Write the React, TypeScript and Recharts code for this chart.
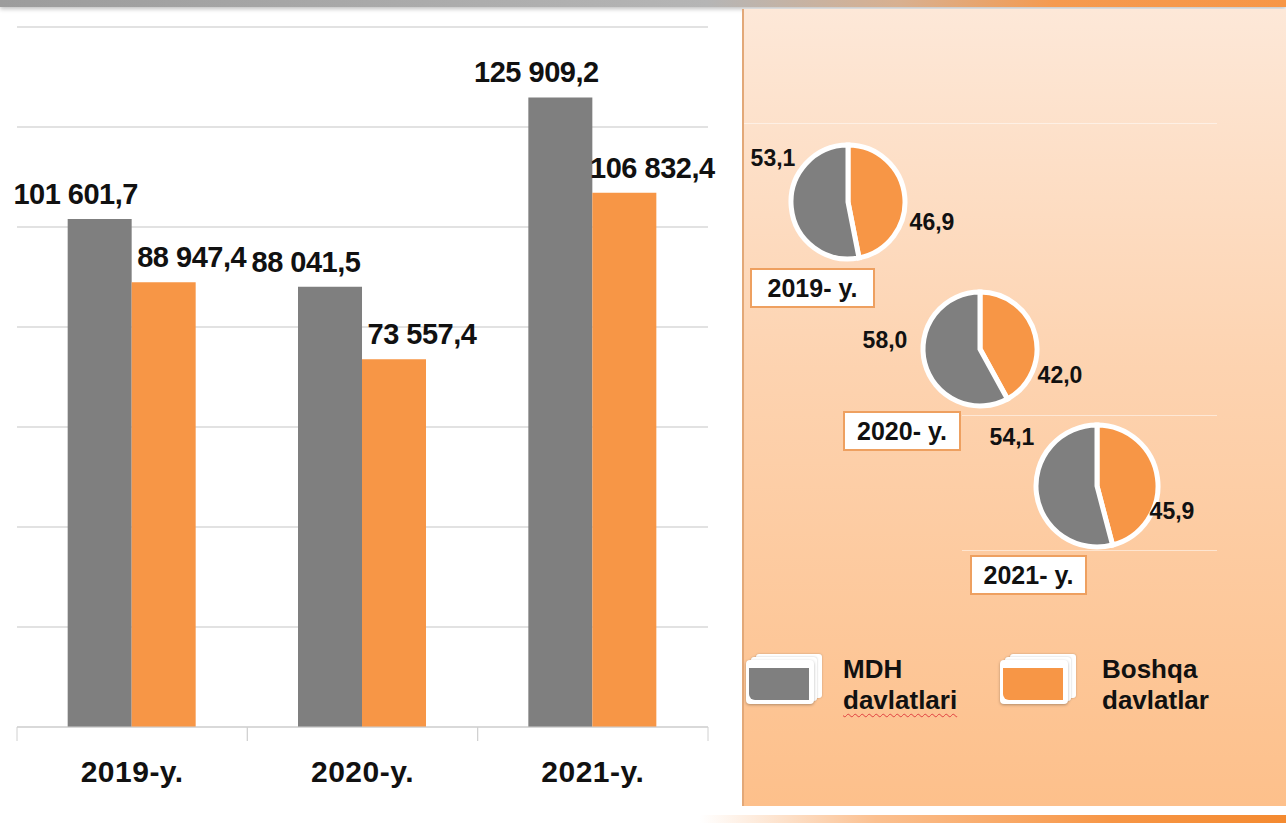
import React from "react";
import { Bar, BarChart, CartesianGrid, XAxis, YAxis, LabelList, PieChart, Pie, Cell } from "recharts";

const years = ["2019-y.", "2020-y.", "2021-y."];
const mdhValues = [101601.7, 88041.5, 125909.2];
const boshqaValues = [88947.4, 73557.4, 106832.4];
const yTicks = [0, 20000, 40000, 60000, 80000, 100000, 120000, 140000];

const pieYears = ["2019- y.", "2020- y.", "2021- y."];
const mdhShares = [53.1, 58.0, 54.1];
const boshqaShares = [46.9, 42.0, 45.9];

const legendNames = ["MDH davlatlari", "Boshqa davlatlar"];

const GREY = "#7f7f7f";
const ORANGE = "#f79646";
const FONT = "'Liberation Sans', Arial, sans-serif";

const barData = years.map((y, i) => ({ name: y, mdh: mdhValues[i], boshqa: boshqaValues[i] }));

// panel-relative layout of the three small pies
const PANEL_LEFT = 742;
const pieLayout = [
    { cx: 101, cy: 197, r: 57, box: { left: 8, top: 268, width: 125 }, offs: [[89, 25], [-70, -39]] },
    { cx: 233, cy: 344, r: 57, box: { left: 101, top: 411, width: 118 }, offs: [[85, 31], [-90, -4]] },
    { cx: 350, cy: 481, r: 61, box: { left: 228, top: 555, width: 117 }, offs: [[80, 30], [-80, -44]] },
];

const fmtBig = (v: number) => {
    const [i, d] = v.toFixed(1).split(".");
    return i.replace(/\B(?=(\d{3})+(?!\d))/g, " ") + "," + d;
};
const fmtPct = (v: number) => v.toFixed(1).replace(".", ",");

const BAND = (708 - 17) / 3;

const CategoryTick = ({ x, y, payload }: any) => (
    <g>
        <line x1={x - BAND / 2} x2={x - BAND / 2} y1={y - 8} y2={y + 6} stroke="#d0d0d0" />
        <line x1={x + BAND / 2} x2={x + BAND / 2} y1={y - 8} y2={y + 6} stroke="#d0d0d0" />
        <text x={x} y={y + 47} textAnchor="middle" fontFamily={FONT} fontWeight="bold" fontSize={30} letterSpacing={0.5} fill="#111">
            {payload.value}
        </text>
    </g>
);

const valueLabel = (dx: number) => (props: any) => {
    const { x, y, width, value } = props;
    return (
        <text x={x + width / 2 + dx} y={y - 15} textAnchor="middle" fontFamily={FONT} fontWeight="bold" fontSize={29} letterSpacing={-0.5} fill="#111">
            {fmtBig(value)}
        </text>
    );
};

function BarPart() {
    return (
        <BarChart width={720} height={800} data={barData} margin={{ top: 27, right: 12, left: 17, bottom: 0 }} barCategoryGap="22%" barGap={0}>
            <CartesianGrid vertical={false} stroke="#d9d9d9" strokeWidth={1.5} />
            <YAxis hide domain={[0, 140000]} ticks={yTicks} />
            <XAxis dataKey="name" height={73} axisLine={{ stroke: "#d0d0d0" }} tickLine={false} tick={<CategoryTick />} interval={0} />
            <Bar dataKey="mdh" fill={GREY} isAnimationActive={false}>
                <LabelList dataKey="mdh" content={valueLabel(-24)} />
            </Bar>
            <Bar dataKey="boshqa" fill={ORANGE} isAnimationActive={false}>
                <LabelList dataKey="boshqa" content={valueLabel(28)} />
            </Bar>
        </BarChart>
    );
}

function PiePart() {
    return (
        <PieChart width={544} height={800}>
            {pieLayout.map((p, k) => {
                const data = [
                    { name: "Boshqa", value: boshqaShares[k] },
                    { name: "MDH", value: mdhShares[k] },
                ];
                return (
                    <Pie
                        key={k}
                        data={data}
                        dataKey="value"
                        cx={p.cx}
                        cy={p.cy}
                        outerRadius={p.r}
                        startAngle={90}
                        endAngle={-270}
                        stroke="#fff"
                        strokeWidth={5}
                        isAnimationActive={false}
                        labelLine={false}
                        label={(lp: any) => (
                            <text
                                x={p.cx + p.offs[lp.index][0]}
                                y={p.cy + p.offs[lp.index][1] + 8}
                                textAnchor="middle"
                                fontFamily={FONT}
                                fontWeight="bold"
                                fontSize={23}
                                fill="#111"
                            >
                                {fmtPct(lp.value)}
                            </text>
                        )}
                    >
                        <Cell fill={ORANGE} />
                        <Cell fill={GREY} />
                    </Pie>
                );
            })}
        </PieChart>
    );
}

const Swatch = ({ color }: { color: string }) => (
    <div style={{ position: "relative", width: 80, height: 52 }}>
        <div style={{ position: "absolute", left: 10, top: 0, width: 66, height: 44, background: "#fff", borderRadius: 3, boxShadow: "0 0 2px rgba(0,0,0,0.25)" }} />
        <div style={{ position: "absolute", left: 5, top: 3, width: 66, height: 44, background: "#fff", borderRadius: 3, boxShadow: "0 0 2px rgba(0,0,0,0.25)" }} />
        <div style={{ position: "absolute", left: 0, top: 6, width: 68, height: 44, background: "#fff", borderRadius: 4, boxShadow: "0 1px 3px rgba(0,0,0,0.3)" }} />
        <div style={{ position: "absolute", left: 3, top: 14, width: 60, height: 32, background: color, borderBottomLeftRadius: 6 }} />
    </div>
);

export default function App() {
    return (
        <div style={{ position: "absolute", left: 0, top: 0, width: 1286, height: 823, background: "#fff", overflow: "hidden", fontFamily: FONT }}>
            {/* top strip */}
            <div style={{ position: "absolute", left: 0, top: 0, width: 1286, height: 7, background: "linear-gradient(to right, #9c9c9c 0%, #b5b5b5 55%, #d8b090 70%, #f59a4f 82%, #f79646 100%)", boxShadow: "0 2px 4px rgba(0,0,0,0.25)" }} />

            {/* right panel */}
            <div style={{ position: "absolute", left: PANEL_LEFT, top: 9, width: 544, height: 797, background: "linear-gradient(to bottom, #fde8d8 0%, #fdd3b0 45%, #fdc08b 100%)", borderLeft: "2px solid #e2a878" }}>
                {[114, 406, 541].map((t, i) => (
                    <div key={i} style={{ position: "absolute", left: i === 0 ? 0 : 218, top: t, width: i === 0 ? 473 : 255, height: 1, background: "rgba(255,255,255,0.5)" }} />
                ))}
            </div>
            {/* bottom orange line */}
            <div style={{ position: "absolute", left: 700, top: 815, width: 586, height: 8, background: "linear-gradient(to right, rgba(247,150,70,0) 0%, #fbc090 30%, #f79646 70%, #f48a30 100%)" }} />

            <div style={{ position: "absolute", left: 0, top: 0 }}>
                <BarPart />
            </div>

            <div style={{ position: "absolute", left: PANEL_LEFT, top: 0 }}>
                <PiePart />
            </div>

            {pieLayout.map((p, k) => (
                <div
                    key={k}
                    style={{
                        position: "absolute",
                        left: PANEL_LEFT + p.box.left,
                        top: p.box.top,
                        width: p.box.width,
                        height: 40,
                        boxSizing: "border-box",
                        background: "#fff",
                        border: "2px solid #eea060",
                        fontWeight: "bold",
                        fontSize: 25,
                        color: "#111",
                        display: "flex",
                        alignItems: "center",
                        justifyContent: "center",
                    }}
                >
                    {pieYears[k]}
                </div>
            ))}

            {/* legend */}
            {[GREY, ORANGE].map((c, i) => {
                const [w1, w2] = legendNames[i].split(" ");
                return (
                    <div key={i} style={{ position: "absolute", left: i === 0 ? 746 : 1000, top: 654, display: "flex", alignItems: "flex-start" }}>
                        <Swatch color={c} />
                        <div style={{ marginLeft: i === 0 ? 17 : 22, fontWeight: "bold", fontSize: 26, lineHeight: "31px", color: "#111" }}>
                            <div>{w1}</div>
                            <div style={i === 0 ? { textDecoration: "underline wavy #e04040", textDecorationThickness: 1, textUnderlineOffset: 4 } : undefined}>{w2}</div>
                        </div>
                    </div>
                );
            })}
        </div>
    );
}
